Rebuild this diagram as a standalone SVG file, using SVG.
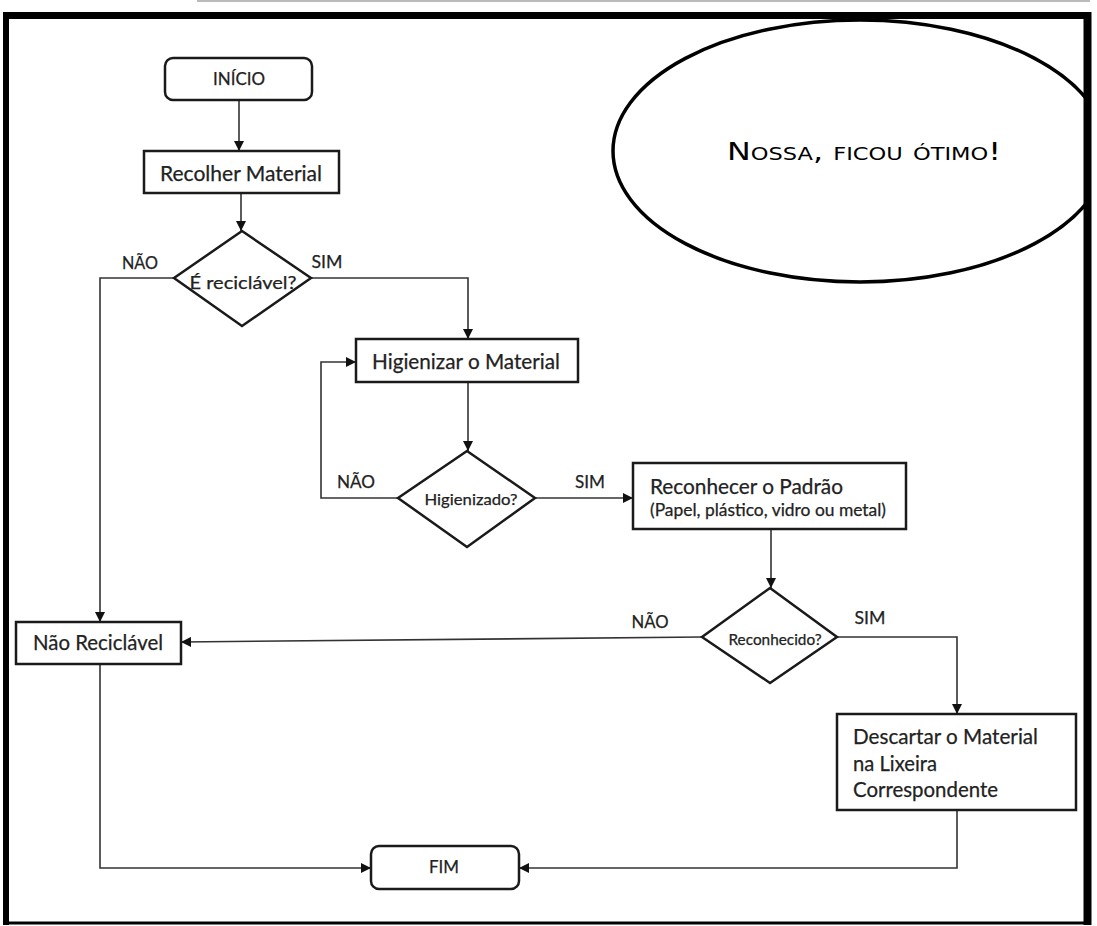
<svg xmlns="http://www.w3.org/2000/svg" width="1097" height="926" viewBox="0 0 1097 926">
<style>
.box{fill:#fff;stroke:#1a1a1a;stroke-width:2.5}
.dia{fill:#fff;stroke:#1a1a1a;stroke-width:2.5}
.c{fill:none;stroke:#333;stroke-width:1.6}
.t{font-family:Lato,"Open Sans",sans-serif;fill:#222;stroke:#222;stroke-width:0.25}
.m{text-anchor:middle}
.frame{stroke:#000;fill:none}
</style>
<defs>
<marker id="ah" viewBox="0 0 10 10" refX="10" refY="5" markerWidth="10" markerHeight="10" markerUnits="userSpaceOnUse" orient="auto">
<path d="M0,0 L10,5 L0,10 Z" fill="#111"/>
</marker>
<clipPath id="inside"><rect x="0" y="0" width="1085" height="926"/></clipPath>
</defs>
<rect width="1097" height="926" fill="#fff"/>
<line x1="197" y1="1" x2="1090" y2="1" stroke="#bbb" stroke-width="2"/>

<g id="balloon" clip-path="url(#inside)">
<ellipse cx="860" cy="151" rx="247" ry="131" fill="#fff" stroke="#000" stroke-width="3.5"/>
<text x="864" y="160" class="m" font-family="'DejaVu Sans',sans-serif" font-size="24" font-variant="small-caps" textLength="274" lengthAdjust="spacingAndGlyphs" fill="#000">Nossa, ficou ótimo!</text>
</g>

<g id="frame">
<line x1="4" y1="15.5" x2="1091" y2="15.5" class="frame" stroke-width="7"/>
<line x1="6" y1="12" x2="6" y2="925" class="frame" stroke-width="6"/>
<line x1="1087.5" y1="12" x2="1087.5" y2="925" class="frame" stroke-width="8"/>
<line x1="3" y1="923" x2="1091" y2="923" class="frame" stroke-width="3"/>
</g>

<g id="connectors">
<line x1="239" y1="100" x2="239" y2="151" class="c" marker-end="url(#ah)"/>
<line x1="241" y1="193" x2="241" y2="231" class="c" marker-end="url(#ah)"/>
<polyline points="174,278 100,278 100,622" class="c" marker-end="url(#ah)"/>
<polyline points="311,278 468,278 468,339" class="c" marker-end="url(#ah)"/>
<line x1="468" y1="382" x2="468" y2="451" class="c" marker-end="url(#ah)"/>
<polyline points="398,498 321,498 321,362 356,362" class="c" marker-end="url(#ah)"/>
<line x1="535" y1="498" x2="633" y2="498" class="c" marker-end="url(#ah)"/>
<line x1="771" y1="529" x2="771" y2="588" class="c" marker-end="url(#ah)"/>
<line x1="702" y1="637" x2="181" y2="642" class="c" marker-end="url(#ah)"/>
<polyline points="837,637 957,637 957,714" class="c" marker-end="url(#ah)"/>
<polyline points="957,810 957,868 519,868" class="c" marker-end="url(#ah)"/>
<polyline points="100,664 100,868 371,868" class="c" marker-end="url(#ah)"/>
<text x="140" y="269" class="t m" font-size="17" textLength="36" lengthAdjust="spacingAndGlyphs">NÃO</text>
<text x="327" y="268" class="t m" font-size="17" textLength="31" lengthAdjust="spacingAndGlyphs">SIM</text>
<text x="356" y="488" class="t m" font-size="17" textLength="38" lengthAdjust="spacingAndGlyphs">NÃO</text>
<text x="590" y="488" class="t m" font-size="17" textLength="30" lengthAdjust="spacingAndGlyphs">SIM</text>
<text x="650" y="628" class="t m" font-size="17" textLength="37" lengthAdjust="spacingAndGlyphs">NÃO</text>
<text x="870" y="624" class="t m" font-size="17" textLength="31" lengthAdjust="spacingAndGlyphs">SIM</text>
</g>

<g id="inicio">
<rect x="165" y="58" width="147" height="42" rx="8" class="box"/>
<text x="239" y="85" class="t m" font-size="17" textLength="52" lengthAdjust="spacingAndGlyphs">INÍCIO</text>
</g>
<g id="recolher">
<rect x="144" y="151" width="195" height="42" class="box"/>
<text x="241" y="181" class="t m" font-size="21" textLength="162" lengthAdjust="spacingAndGlyphs">Recolher Material</text>
</g>
<g id="reciclavel">
<polygon points="242,231 311,278 242,326 174,278" class="dia"/>
<text x="243" y="289" class="t m" font-size="18" textLength="107" lengthAdjust="spacingAndGlyphs">É reciclável?</text>
</g>
<g id="higienizar">
<rect x="356" y="339" width="222" height="43" class="box"/>
<text x="466" y="369" class="t m" font-size="21" textLength="188" lengthAdjust="spacingAndGlyphs">Higienizar o Material</text>
</g>
<g id="higienizado">
<polygon points="467,451 535,498 467,547 398,498" class="dia"/>
<text x="471" y="505" class="t m" font-size="16" textLength="93" lengthAdjust="spacingAndGlyphs">Higienizado?</text>
</g>
<g id="reconhecer">
<rect x="633" y="463" width="273" height="66" class="box"/>
<text x="650" y="494" class="t" font-size="21" textLength="193" lengthAdjust="spacingAndGlyphs">Reconhecer o Padrão</text>
<text x="650" y="516" class="t" font-size="17" textLength="236" lengthAdjust="spacingAndGlyphs">(Papel, plástico, vidro ou metal)</text>
</g>
<g id="reconhecido">
<polygon points="770,588 837,637 770,683 702,637" class="dia"/>
<text x="775" y="645" class="t m" font-size="15" textLength="93" lengthAdjust="spacingAndGlyphs">Reconhecido?</text>
</g>
<g id="nao-reciclavel">
<rect x="16" y="622" width="165" height="42" class="box"/>
<text x="98" y="650" class="t m" font-size="21" textLength="130" lengthAdjust="spacingAndGlyphs">Não Reciclável</text>
</g>
<g id="descartar">
<rect x="837" y="714" width="239" height="96" class="box"/>
<text x="853" y="744" class="t" font-size="21" textLength="185" lengthAdjust="spacingAndGlyphs">Descartar o Material</text>
<text x="853" y="771" class="t" font-size="21" textLength="84" lengthAdjust="spacingAndGlyphs">na Lixeira</text>
<text x="853" y="797" class="t" font-size="21" textLength="145" lengthAdjust="spacingAndGlyphs">Correspondente</text>
</g>
<g id="fim">
<rect x="371" y="846" width="148" height="43" rx="8" class="box"/>
<text x="444" y="873" class="t m" font-size="17" textLength="30" lengthAdjust="spacingAndGlyphs">FIM</text>
</g>
</svg>
